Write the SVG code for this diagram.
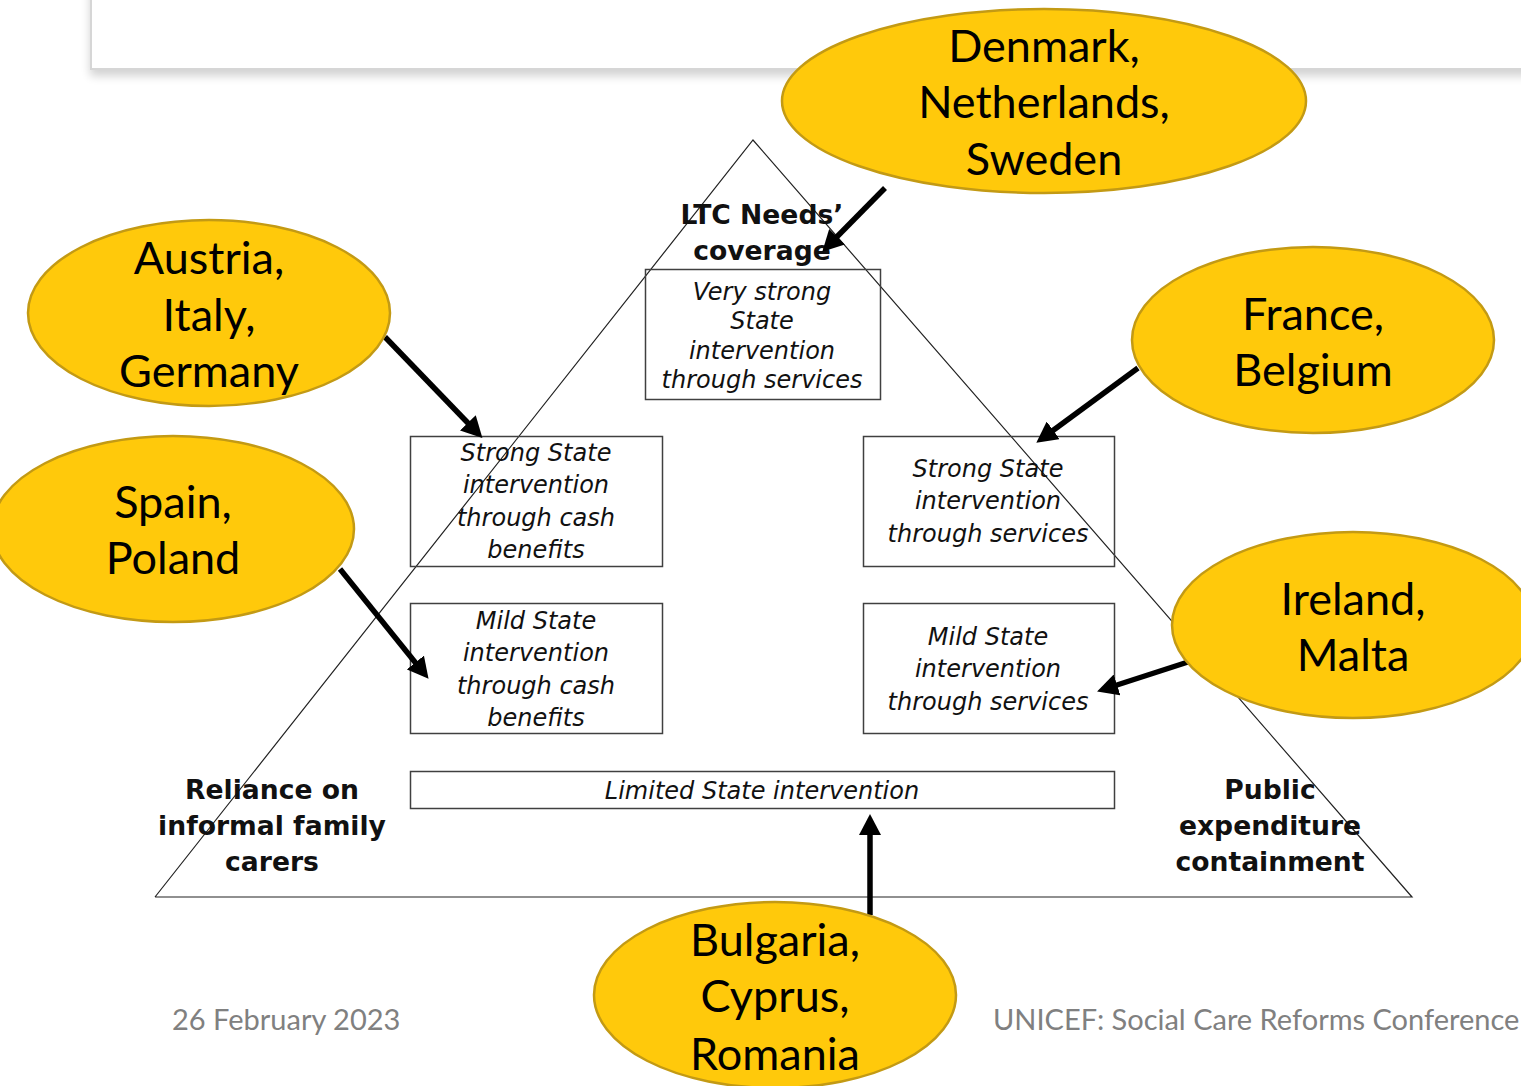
<svg xmlns="http://www.w3.org/2000/svg" width="1521" height="1086" viewBox="0 0 1521 1086">
  <style>
    .bg { fill: #ffffff; }
    .panel { fill: #ffffff; stroke: #d6d6d6; stroke-width: 2; }
    .tri { fill: none; stroke: #222222; stroke-width: 1.2; }
    .box { fill: none; stroke: #404040; stroke-width: 1.5; }
    .it { font-family: "DejaVu Sans", Verdana, sans-serif; font-style: italic; font-size: 24px; fill: #111111; text-anchor: middle; }
    .bd { font-family: "DejaVu Sans", Verdana, sans-serif; font-weight: bold; font-size: 26.6px; fill: #111111; text-anchor: middle; }
    .oval { fill: #ffc90b; stroke: #c39a14; stroke-width: 2.5; }
    .cty { font-family: Lato, "Open Sans", sans-serif; font-size: 45px; fill: #000000; text-anchor: middle; }
    .foot { font-family: Lato, "Open Sans", sans-serif; font-size: 29px; fill: #808080; }
    .arrow { stroke: #000000; stroke-width: 5.5; fill: none; marker-end: url(#head); }
  </style>
  <defs>
    <marker id="head" markerUnits="userSpaceOnUse" markerWidth="22" markerHeight="22" refX="5" refY="11" orient="auto">
      <path d="M0,0 L21,11 L0,22 z" fill="#000000"/>
    </marker>
    <filter id="shadow" x="-5%" y="-50%" width="110%" height="200%">
      <feGaussianBlur in="SourceAlpha" stdDeviation="5"/>
      <feOffset dx="0" dy="6" result="b"/>
      <feComponentTransfer><feFuncA type="linear" slope="0.18"/></feComponentTransfer>
      <feMerge><feMergeNode/><feMergeNode in="SourceGraphic"/></feMerge>
    </filter>
  </defs>

  <rect class="bg" x="0" y="0" width="1521" height="1086"/>

  <!-- slide title panel -->
  <rect class="panel" x="91" y="-20" width="1460" height="89" filter="url(#shadow)"/>

  <!-- pyramid outline -->
  <g id="pyramid">
    <polyline class="tri" points="155,897 753,140 1412,897 155,897"/>
  </g>

  <!-- pyramid labels -->
  <g id="apex-label">
    <text class="bd" x="762" y="224">LTC Needs’</text>
    <text class="bd" x="762" y="260">coverage</text>
  </g>
  <g id="left-label">
    <text class="bd" x="272" y="799">Reliance on</text>
    <text class="bd" x="272" y="835">informal family</text>
    <text class="bd" x="272" y="871">carers</text>
  </g>
  <g id="right-label">
    <text class="bd" x="1270" y="799">Public</text>
    <text class="bd" x="1270" y="835">expenditure</text>
    <text class="bd" x="1270" y="871">containment</text>
  </g>

  <!-- intervention levels -->
  <g id="very-strong-services">
    <rect class="box" x="645.5" y="269.5" width="235" height="130"/>
    <text class="it" x="762" y="300">Very strong</text>
    <text class="it" x="762" y="329">State</text>
    <text class="it" x="762" y="359">intervention</text>
    <text class="it" x="762" y="388">through services</text>
  </g>
  <g id="strong-cash">
    <rect class="box" x="410.5" y="436.5" width="252" height="130"/>
    <text class="it" x="536" y="461">Strong State</text>
    <text class="it" x="536" y="493">intervention</text>
    <text class="it" x="536" y="526">through cash</text>
    <text class="it" x="536" y="558">benefits</text>
  </g>
  <g id="strong-services">
    <rect class="box" x="863.5" y="436.5" width="251" height="130"/>
    <text class="it" x="988" y="477">Strong State</text>
    <text class="it" x="988" y="509">intervention</text>
    <text class="it" x="988" y="542">through services</text>
  </g>
  <g id="mild-cash">
    <rect class="box" x="410.5" y="603.5" width="252" height="130"/>
    <text class="it" x="536" y="629">Mild State</text>
    <text class="it" x="536" y="661">intervention</text>
    <text class="it" x="536" y="694">through cash</text>
    <text class="it" x="536" y="726">benefits</text>
  </g>
  <g id="mild-services">
    <rect class="box" x="863.5" y="603.5" width="251" height="130"/>
    <text class="it" x="988" y="645">Mild State</text>
    <text class="it" x="988" y="677">intervention</text>
    <text class="it" x="988" y="710">through services</text>
  </g>
  <g id="limited">
    <rect class="box" x="410.5" y="771.5" width="704" height="37"/>
    <text class="it" x="762" y="799">Limited State intervention</text>
  </g>

  <!-- arrows from country groups to their level -->
  <g id="connectors">
    <line class="arrow" x1="885" y1="188" x2="833.5" y2="240.3"/>
    <line class="arrow" x1="385" y1="337" x2="471.3" y2="426.5"/>
    <line class="arrow" x1="340" y1="569" x2="418.5" y2="666.4"/>
    <line class="arrow" x1="1138" y1="368" x2="1049.2" y2="433.3"/>
    <line class="arrow" x1="1188" y1="662" x2="1112.3" y2="686.5"/>
    <line class="arrow" x1="870" y1="915" x2="870" y2="830"/>
  </g>

  <!-- country groups -->
  <g id="nordic">
    <ellipse class="oval" cx="1044" cy="101" rx="262" ry="92"/>
    <text class="cty" x="1044" y="62">Denmark,</text>
    <text class="cty" x="1044" y="118">Netherlands,</text>
    <text class="cty" x="1044" y="175">Sweden</text>
  </g>
  <g id="continental">
    <ellipse class="oval" cx="209" cy="313" rx="181" ry="93"/>
    <text class="cty" x="209" y="274">Austria,</text>
    <text class="cty" x="209" y="331">Italy,</text>
    <text class="cty" x="209" y="387">Germany</text>
  </g>
  <g id="spain-poland">
    <ellipse class="oval" cx="173" cy="529" rx="181" ry="93"/>
    <text class="cty" x="173" y="518">Spain,</text>
    <text class="cty" x="173" y="574">Poland</text>
  </g>
  <g id="france-belgium">
    <ellipse class="oval" cx="1313" cy="340" rx="181" ry="93"/>
    <text class="cty" x="1313" y="330">France,</text>
    <text class="cty" x="1313" y="386">Belgium</text>
  </g>
  <g id="ireland-malta">
    <ellipse class="oval" cx="1353" cy="625" rx="181" ry="93"/>
    <text class="cty" x="1353" y="615">Ireland,</text>
    <text class="cty" x="1353" y="671">Malta</text>
  </g>
  <g id="eastern">
    <ellipse class="oval" cx="775" cy="995" rx="181" ry="93"/>
    <text class="cty" x="775" y="956">Bulgaria,</text>
    <text class="cty" x="775" y="1012">Cyprus,</text>
    <text class="cty" x="775" y="1070">Romania</text>
  </g>

  <!-- slide footer -->
  <text class="foot" x="172" y="1030">26 February 2023</text>
  <text class="foot" x="993" y="1030">UNICEF: Social Care Reforms Conference</text>
</svg>
